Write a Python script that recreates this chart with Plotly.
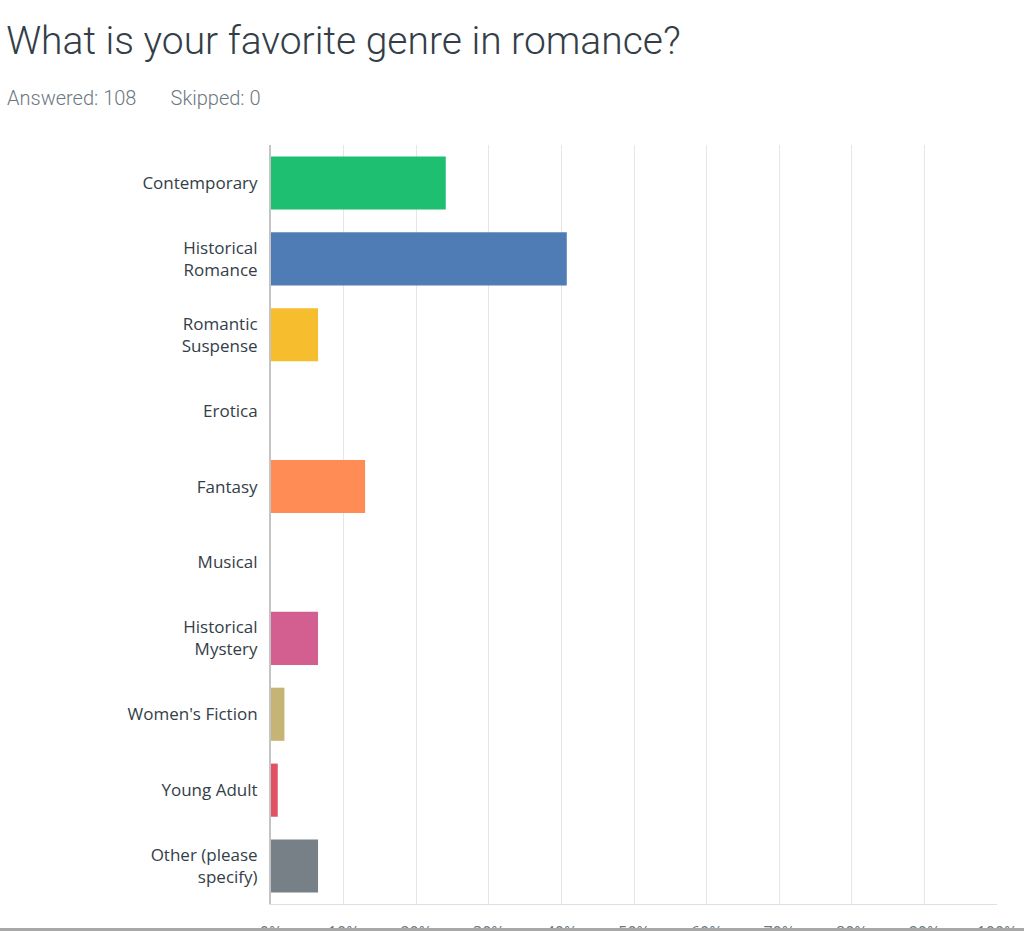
import plotly.graph_objects as go

# survey answers (percent of respondents)
genres = ["Contemporary", "Historical<br>Romance", "Romantic<br>Suspense", "Erotica", "Fantasy",
          "Musical", "Historical<br>Mystery", "Women's Fiction", "Young Adult", "Other (please<br>specify)"]
percents = [24.07, 40.74, 6.48, 0, 12.96, 0, 6.48, 1.85, 0.93, 6.48]
bar_colors = ["#1fbf71", "#507cb6", "#f6bd2e", "#6b4ea0", "#ff8b55",
              "#3fb9c8", "#d25f90", "#c6b475", "#e05263", "#768086"]
tick_vals = [0, 10, 20, 30, 40, 50, 60, 70, 80, 90, 100]
tick_text = ["0%", "10%", "20%", "30%", "40%", "50%", "60%", "70%", "80%", "90%", "100%"]

fig = go.Figure()
fig.add_trace(go.Bar(
    y=genres, x=percents, orientation="h",
    marker=dict(color=bar_colors, line=dict(width=0)),
    hoverinfo="skip"
))

fig.update_layout(
    width=1024, height=931,
    margin=dict(l=271, r=27, t=145, b=27, autoexpand=False),
    paper_bgcolor="white", plot_bgcolor="white",
    bargap=0.30,
    showlegend=False,
    font=dict(family="Open Sans", color="#333e48"),
    title=dict(
        text="What is your favorite genre in romance?",
        font=dict(family="Roboto", size=39, color="#333e48", weight=300),
        xref="container", x=0.006, xanchor="left",
        yref="container", y=1 - 40 / 931, yanchor="middle", automargin=False
    ),
)

fig.add_annotation(
    text="Answered: 108&nbsp;&nbsp;&nbsp;&nbsp;&nbsp;&nbsp;&nbsp;Skipped: 0",
    xref="paper", yref="paper", x=(5 - 271) / 726, y=(904 - 98) / 759,
    xanchor="left", yanchor="middle", showarrow=False,
    font=dict(family="Roboto", size=20, color="#6b787f", weight=300)
)

fig.update_xaxes(
    range=[0, 100], tickvals=tick_vals, ticktext=tick_text,
    showgrid=True, gridcolor="#e6e6e6", gridwidth=1,
    showline=True, linecolor="#e0e0e0", linewidth=1,
    zeroline=False, ticks="", ticklabelstandoff=14, automargin=False,
    tickfont=dict(size=16, color="#6b787f")
)
fig.update_yaxes(
    autorange="reversed", showgrid=False,
    showline=True, linecolor="#c4c4c4", linewidth=2,
    ticks="", ticklabelstandoff=8, automargin=False,
    tickfont=dict(size=17, color="#333e48")
)

# page border at the very bottom
fig.add_shape(type="rect", xref="paper", yref="paper",
              x0=-1, x1=1.2, y0=(904 - 928) / 759, y1=(904 - 933) / 759,
              fillcolor="#a8a8a8", line=dict(width=0), layer="above")

fig.write_html("out.html", config={"displayModeBar": False},
               post_script="document.body.style.margin='0';document.body.style.overflow='hidden';")
